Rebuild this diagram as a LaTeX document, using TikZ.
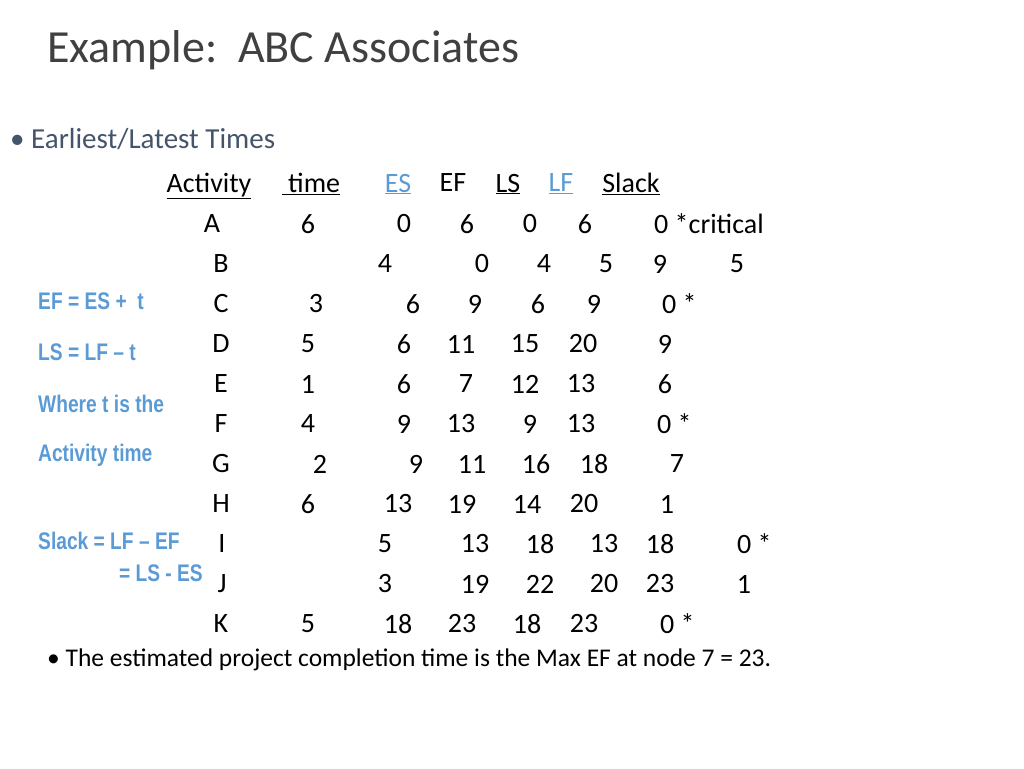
\documentclass[tikz,border=0pt]{standalone}
\usepackage{fontspec}
\setmainfont{Carlito}
\newfontfamily\narrowfont[FakeStretch=0.8]{Liberation Sans}
\usetikzlibrary{positioning}
\definecolor{slideblue}{HTML}{5B9BD5}
\definecolor{slidegray}{HTML}{404040}
\definecolor{bulletgray}{HTML}{44546A}
\begin{document}
\begin{tikzpicture}[x=1pt, y=-1pt,
    cell/.style={inner sep=0pt, font=\fontsize{28}{31}\selectfont},
    head/.style={cell, text depth=0pt},
    side/.style={inner sep=0pt, anchor=west, text=slideblue, font=\narrowfont\fontsize{24}{28}\selectfont\bfseries}
]
\useasboundingbox (0,0) rectangle (1024,768);

\node[anchor=west, inner sep=0pt, text=slidegray, font=\fontsize{46}{50}\selectfont] (title) at (47,50) {Example:\ \ ABC Associates};
\node[anchor=west, inner sep=0pt, text=bulletgray, font=\fontsize{29}{33}\selectfont] (bul1) at (10,139) {\textbullet\ Earliest/Latest Times};

% header
\node[head] (hact) at (209,183) {\underline{Activity}};
\node[head] (htime) at (311,183) {\underline{\ time}};
\node[head, text=slideblue] (hes) at (398,183) {\underline{ES}};
\node[head] (hef) at (453,183) {EF};
\node[head] (hls) at (508,183) {\underline{LS}};
\node[head, text=slideblue] (hlf) at (561,183) {\underline{LF}};
\node[head] (hsl) at (631,183) {\underline{Slack}};

% rows
\foreach \y/\r/\row in {
  224/a/{212/A,308/6,404/0,467/6,530/0,585/6},
  264/b/{221/B,385/4,482/0,544/4,606/5,660/9,737/5},
  304/c/{221/C,316/3,413/6,475/9,538/6,594/9},
  344/d/{221/D,308/5,404/6,461/11,525/15,583/20,665/9},
  384/e/{221/E,308/1,404/6,466/7,525/12,581/13,665/6},
  424/f/{221/F,308/4,404/9,461/13,530/9,581/13},
  464/g/{221/G,320/2,416/9,472/11,536/16,594/18,677/7},
  504/h/{221/H,308/6,398/13,462/19,527/14,584/20,667/1},
  544/i/{222/I,385/5,475/13,540/18,604/13,660/18},
  584/j/{222/J,385/3,475/19,540/22,604/20,660/23,744/1},
  624/k/{221/K,308/5,398/18,462/23,527/18,584/23}}
  \foreach \x/\t [count=\i] in \row
    \node[cell] (\r\i) at (\x,\y) {\t};

% slack notes
\node[cell, anchor=west] (anote) at (654,224) {0 *critical};
\node[cell, anchor=west] (cnote) at (662,304) {0 *};
\node[cell, anchor=west] (fnote) at (657,424) {0 *};
\node[cell, anchor=west] (inote) at (737,544) {0 *};
\node[cell, anchor=west] (knote) at (660,624) {0 *};

% formulas
\node[side] (f1) at (38,301) {EF = ES +\ \ t};
\node[side] (f2) at (38,352) {LS = LF – t};
\node[side] (f3) at (38,404) {Where t is the};
\node[side] (f4) at (38,455) {Activity time};
\node[side] (f5) at (38,541) {Slack = LF – EF};
\node[side, anchor=east] (f6) at (203,573) {= LS - ES};

\node[anchor=west, inner sep=0pt, font=\fontsize{25.5}{29}\selectfont] (bul2) at (47,660) {\textbullet\ The estimated project completion time is the Max EF at node 7 = 23.};
\end{tikzpicture}
\end{document}
